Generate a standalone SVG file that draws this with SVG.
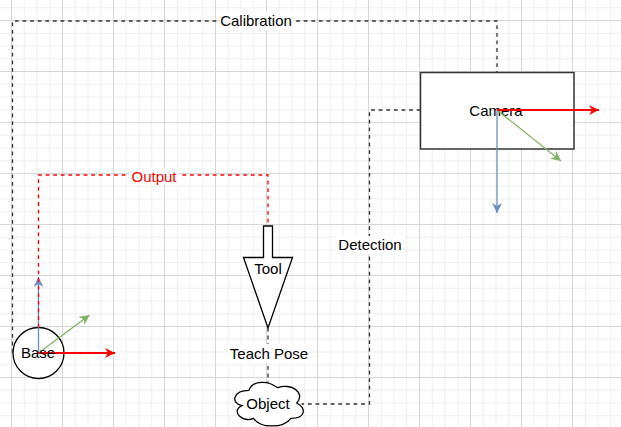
<svg xmlns="http://www.w3.org/2000/svg" width="621" height="427" viewBox="0 0 621 427">
  <style>
    .lbl { font-family: "Liberation Sans", Arial, sans-serif; font-size: 15px; fill: #000; text-anchor: middle; }
    .red { fill: #ff0000; }
    .shape { fill: #ffffff; stroke: #000000; stroke-width: 1.3; }
    .dash { fill: none; stroke: #333333; stroke-width: 1.3; stroke-dasharray: 3.8 3.8; }
    .dashred { fill: none; stroke: #ff0000; stroke-width: 1.3; stroke-dasharray: 3.8 3.8; }
    .ax-r { stroke: #ff0000; stroke-width: 2; fill: none; }
    .ax-g { stroke: #82b366; stroke-width: 1.3; fill: none; }
    .ax-b { stroke: #6c8ebf; stroke-width: 1.3; fill: none; }
    .bg { fill: #ffffff; }
  </style>
  <defs>
    <pattern id="grid" x="11" y="20" width="51" height="51" patternUnits="userSpaceOnUse">
      <path d="M13.25 0V51M26 0V51M38.75 0V51M0 13.25H51M0 26H51M0 38.75H51" stroke="#efefef" stroke-width="1" fill="none"/>
      <path d="M0.5 0V51M0 0.5H51" stroke="#d6d6d6" stroke-width="1" fill="none"/>
    </pattern>
    <marker id="arR" viewBox="0 0 10 10" refX="10" refY="5" markerWidth="10" markerHeight="10" markerUnits="userSpaceOnUse" orient="auto">
      <path d="M0,0 L10,5 L0,10 L3,5 z" fill="#ff0000"/>
    </marker>
    <marker id="arG" viewBox="0 0 10 10" refX="10" refY="5" markerWidth="10" markerHeight="10" markerUnits="userSpaceOnUse" orient="auto">
      <path d="M0,0 L10,5 L0,10 L3,5 z" fill="#82b366"/>
    </marker>
    <marker id="arB" viewBox="0 0 10 10" refX="10" refY="5" markerWidth="10" markerHeight="10" markerUnits="userSpaceOnUse" orient="auto">
      <path d="M0,0 L10,5 L0,10 L3,5 z" fill="#6c8ebf"/>
    </marker>
  </defs>

  <rect x="0" y="0" width="621" height="427" fill="#ffffff"/>
  <rect x="0" y="0" width="621" height="427" fill="url(#grid)"/>

  <g id="node-base">
    <circle class="shape" cx="38.5" cy="353" r="25.5"/>
    <line class="ax-b" x1="38.5" y1="353" x2="38.5" y2="277" marker-end="url(#arB)"/>
    <line class="ax-g" x1="38.5" y1="353" x2="89.5" y2="315" marker-end="url(#arG)"/>
    <line class="ax-r" x1="38.5" y1="353" x2="115" y2="353" marker-end="url(#arR)"/>
    <text class="lbl" x="38" y="357.5">Base</text>
  </g>

  <g id="node-camera">
    <rect x="420.5" y="72.5" width="153.5" height="76.5" fill="#ffffff" stroke="#333333" stroke-width="1.5"/>
    <text class="lbl" x="496" y="115.5">Camera</text>
    <line class="ax-b" x1="497" y1="110" x2="497" y2="213" marker-end="url(#arB)"/>
    <line class="ax-g" x1="497" y1="110" x2="561" y2="161" marker-end="url(#arG)"/>
    <line class="ax-r" x1="497" y1="110" x2="599" y2="110" marker-end="url(#arR)"/>
  </g>

  <g id="node-tool">
    <path class="shape" d="M263.5,226 H272.5 V257.5 H292.5 L268,328 L243.5,257.5 H263.5 Z"/>
    <text class="lbl" x="268" y="273.5">Tool</text>
  </g>

  <g id="node-object">
    <path class="shape" d="M248.9,390.3 C233.6,390.3 229.8,403 242,405.6 C229.8,411.2 243.5,423.4 253.5,418.3 C260.3,428.5 283.3,428.5 290.9,418.3 C306.2,418.3 306.2,408.1 296.7,403 C306.2,392.8 290.9,382.6 277.6,387.7 C268,380.1 252.7,380.1 248.9,390.3 Z"/>
    <text class="lbl" x="268" y="409">Object</text>
  </g>

  <g id="connectors">
    <g id="edge-calibration">
      <path class="dash" d="M12.5,353 V21 H497 V72.5"/>
      <rect class="bg" x="219" y="12" width="75" height="18"/>
      <text class="lbl" x="256" y="26">Calibration</text>
    </g>
    <g id="edge-output">
      <path class="dashred" d="M38.5,327.5 V175 H268 V226"/>
      <rect class="bg" x="129" y="168" width="50" height="17"/>
      <text class="lbl red" x="154" y="182">Output</text>
    </g>
    <g id="edge-detection">
      <path class="dash" d="M420.5,110 H369.5 V404 H301.5"/>
      <rect class="bg" x="336" y="236" width="68" height="18"/>
      <text class="lbl" x="370" y="250">Detection</text>
    </g>
    <g id="edge-teachpose">
      <path class="dash" d="M268,328 V383"/>
      <rect class="bg" x="228" y="344" width="82" height="19"/>
      <text class="lbl" x="269" y="358.5">Teach Pose</text>
    </g>
  </g>
</svg>
